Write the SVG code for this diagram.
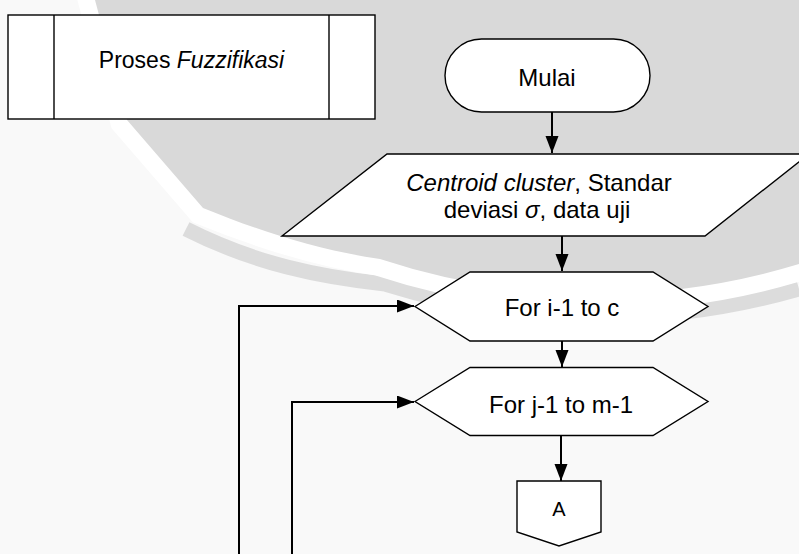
<svg xmlns="http://www.w3.org/2000/svg" width="799" height="554" viewBox="0 0 799 554">
  <style>
    .shape { fill: #ffffff; stroke: #000000; stroke-width: 1.4; }
    .label { font-family: "Liberation Sans", Arial, sans-serif; font-size: 24px; fill: #000000; text-anchor: middle; }
    .title { font-size: 23px; }
    .small { font-size: 20px; }
    .it { font-style: italic; }
    .conn { fill: none; stroke: #000000; stroke-width: 2; }
  </style>
  <defs>
    <marker id="arrow" markerUnits="userSpaceOnUse" markerWidth="18" markerHeight="14" refX="17" refY="6.5" orient="auto">
      <path d="M0,0 L17,6.5 L0,13 Z" fill="#000000"/>
    </marker>
  </defs>

  <g id="background">
    <rect x="0" y="0" width="799" height="554" fill="#f9f9f9"/>
    <path d="M186,229 C255,264 320,277 385,284 A717,717 0 0 0 799,289" fill="none" stroke="#dcdcdc" stroke-width="15"/>
    <path d="M95,0 L127,120 L203,208 C262,232 318,250 380,259 A693,693 0 0 0 799,264 L799,0 Z" fill="none" stroke="#ffffff" stroke-width="34"/>
    <path d="M95,0 L127,120 L203,208 C262,232 318,250 380,259 A693,693 0 0 0 799,264 L799,0 Z" fill="#d9d9d9"/>
  </g>

  <g id="connectors">
    <line class="conn" x1="552" y1="112" x2="552" y2="153" marker-end="url(#arrow)"/>
    <line class="conn" x1="562" y1="236" x2="562" y2="271" marker-end="url(#arrow)"/>
    <line class="conn" x1="562" y1="341" x2="562" y2="367" marker-end="url(#arrow)"/>
    <line class="conn" x1="561" y1="436" x2="561" y2="481" marker-end="url(#arrow)"/>
    <polyline class="conn" points="239,560 239,306 414,306" marker-end="url(#arrow)"/>
    <polyline class="conn" points="292,560 292,402 414,402" marker-end="url(#arrow)"/>
  </g>

  <g id="proses-fuzzifikasi">
    <rect class="shape" x="8" y="15" width="367" height="104"/>
    <line class="shape" x1="54" y1="15" x2="54" y2="119"/>
    <line class="shape" x1="329" y1="15" x2="329" y2="119"/>
    <text class="label title" x="191.5" y="68">Proses <tspan class="it">Fuzzifikasi</tspan></text>
  </g>

  <g id="mulai">
    <rect class="shape" x="445" y="39" width="205" height="73" rx="36.5" ry="36.5"/>
    <text class="label" x="547" y="86">Mulai</text>
  </g>

  <g id="input">
    <polygon class="shape" points="387,154 809,154 705,236 282,236"/>
    <text class="label" x="539" y="191"><tspan class="it">Centroid cluster</tspan>, Standar</text>
    <text class="label" x="537" y="218">deviasi <tspan class="it">σ</tspan>, data uji</text>
  </g>

  <g id="for-i">
    <polygon class="shape" points="415,306.5 470,272 653,272 708,306.5 653,341 470,341"/>
    <text class="label" x="562" y="316">For i-1 to c</text>
  </g>

  <g id="for-j">
    <polygon class="shape" points="415,401.5 470,367.5 653,367.5 708,401.5 653,435.5 470,435.5"/>
    <text class="label" x="561" y="413">For j-1 to m-1</text>
  </g>

  <g id="connector-a">
    <polygon class="shape" points="517,481 601,481 601,532 559,546 517,532"/>
    <text class="label small" x="559" y="516">A</text>
  </g>
</svg>
